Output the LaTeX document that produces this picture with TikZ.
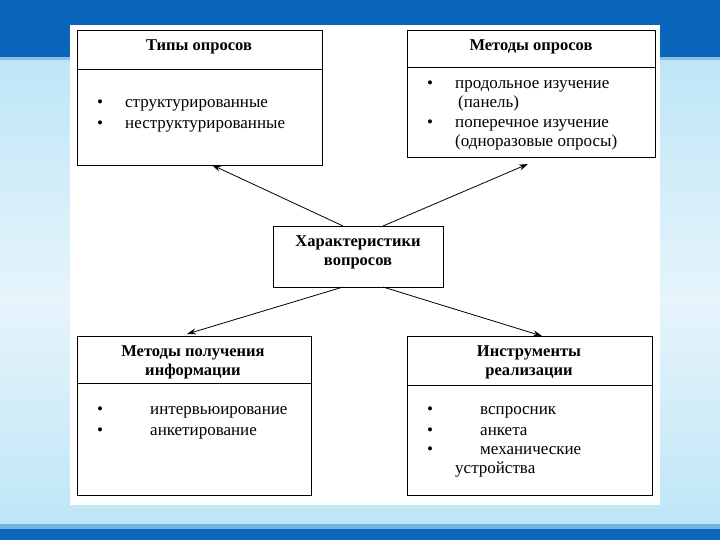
\documentclass[tikz,border=0pt]{standalone}
\usepackage{fontspec}
\setmainfont{Liberation Serif}
\usetikzlibrary{arrows.meta}
\definecolor{barblue}{HTML}{0A66BA}
\definecolor{skyblue}{HTML}{BEE6F6}
\definecolor{paleblue}{HTML}{E6F4FB}
\tikzset{
  boxnode/.style={draw=black, line width=0.9pt, rectangle, inner sep=0pt, anchor=north west},
  headtxt/.style={font=\fontsize{16.5}{19}\selectfont\bfseries, inner sep=0pt, align=center},
  itemtxt/.style={font=\fontsize{17}{19}\selectfont, inner sep=0pt, anchor=base west},
  bullettxt/.style={font=\fontsize{17}{19}\selectfont, inner sep=0pt, anchor=base},
  conn/.style={line width=0.8pt, -{Stealth[length=9pt,width=6pt]}}
}
\begin{document}
\begin{tikzpicture}[x=1pt,y=-1pt]
\useasboundingbox (0,0) rectangle (720,540);
% background
\fill[top color=skyblue, bottom color=paleblue] (0,58) rectangle (720,300);
\fill[top color=paleblue, bottom color=skyblue] (0,300) rectangle (720,528);
\fill[barblue] (0,0) rectangle (720,57);
\fill[skyblue!70!barblue] (0,57) rectangle (720,60);
\fill[skyblue!60!barblue] (0,524) rectangle (720,529);
\fill[barblue] (0,529) rectangle (720,540);
\fill[white] (70,25) rectangle (660,505);

% boxes
\node[boxnode, minimum width=245pt, minimum height=135pt] (b1) at (77,30) {};
\node[boxnode, minimum width=248pt, minimum height=127pt] (b2) at (407,30) {};
\node[boxnode, minimum width=170pt, minimum height=61pt] (c) at (273,226) {};
\node[boxnode, minimum width=234pt, minimum height=159pt] (b3) at (77,336) {};
\node[boxnode, minimum width=245pt, minimum height=159pt] (b4) at (407,336) {};

% dividers
\draw[line width=0.9pt] (b1.west |- 0,69) -- (b1.east |- 0,69);
\draw[line width=0.9pt] (b2.west |- 0,67) -- (b2.east |- 0,67);
\draw[line width=0.9pt] (b3.west |- 0,383) -- (b3.east |- 0,383);
\draw[line width=0.9pt] (b4.west |- 0,385) -- (b4.east |- 0,385);

% headers
\node[headtxt] (h1) at (199,47) {Типы опросов};
\node[headtxt] (h2) at (531,47) {Методы опросов};
\node[headtxt] (hc) at (358,252) {Характеристики\\вопросов};
\node[headtxt] (h3) at (193,362) {Методы получения\\информации};
\node[headtxt] (h4) at (529,362) {Инструменты\\реализации};

% box 1 items
\node[bullettxt] (p11) at (100,108) {\textbullet};
\node[itemtxt] (t11) at (125,108) {структурированные};
\node[bullettxt] (p12) at (100,129) {\textbullet};
\node[itemtxt] (t12) at (125,129) {неструктурированные};

% box 2 items
\node[bullettxt] (p21) at (430,89) {\textbullet};
\node[itemtxt] (t21) at (455,89) {продольное изучение};
\node[itemtxt] (t22) at (458,108) {(панель)};
\node[bullettxt] (p23) at (430,128) {\textbullet};
\node[itemtxt] (t23) at (455,128) {поперечное изучение};
\node[itemtxt] (t24) at (455,147) {(одноразовые опросы)};

% box 3 items
\node[bullettxt] (p31) at (100,414) {\textbullet};
\node[itemtxt] (t31) at (150,414) {интервьюирование};
\node[bullettxt] (p32) at (100,435) {\textbullet};
\node[itemtxt] (t32) at (150,435) {анкетирование};

% box 4 items
\node[bullettxt] (p41) at (430,414) {\textbullet};
\node[itemtxt] (t41) at (480,414) {вспросник};
\node[bullettxt] (p42) at (430,435) {\textbullet};
\node[itemtxt] (t42) at (480,435) {анкета};
\node[bullettxt] (p43) at (430,454) {\textbullet};
\node[itemtxt] (t43) at (480,454) {механические};
\node[itemtxt] (t44) at (455,473) {устройства};

% connectors
\coordinate (s1) at (343,226);
\coordinate (e1) at (212,165);
\coordinate (s2) at (383,226);
\coordinate (e2) at (528,164);
\coordinate (s3) at (343,287);
\coordinate (e3) at (187,334);
\coordinate (s4) at (383,287);
\coordinate (e4) at (542,336);
\draw[conn] (s1) -- (e1);
\draw[conn] (s2) -- (e2);
\draw[conn] (s3) -- (e3);
\draw[conn] (s4) -- (e4);
\end{tikzpicture}
\end{document}
